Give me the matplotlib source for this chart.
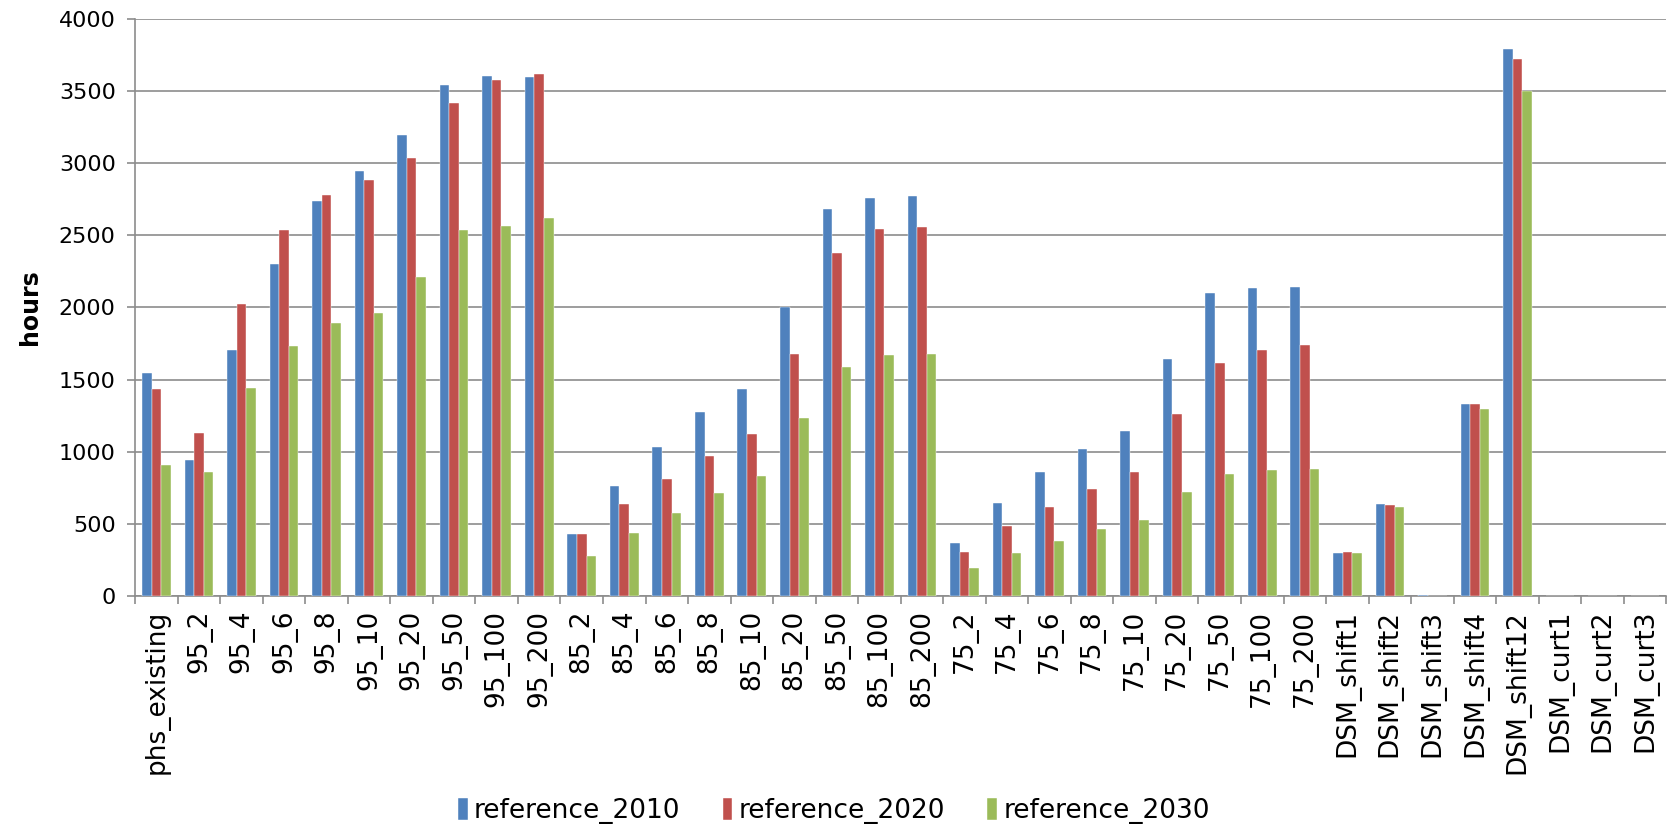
import numpy as np
import matplotlib.pyplot as plt

categories = ["phs_existing", "95_2", "95_4", "95_6", "95_8", "95_10", "95_20", "95_50", "95_100", "95_200",
              "85_2", "85_4", "85_6", "85_8", "85_10", "85_20", "85_50", "85_100", "85_200",
              "75_2", "75_4", "75_6", "75_8", "75_10", "75_20", "75_50", "75_100", "75_200",
              "DSM_shift1", "DSM_shift2", "DSM_shift3", "DSM_shift4", "DSM_shift12",
              "DSM_curt1", "DSM_curt2", "DSM_curt3"]

ref_2010 = [1548, 942, 1705, 2301, 2737, 2946, 3193, 3541, 3607, 3596,
            428, 763, 1035, 1277, 1433, 2001, 2680, 2759, 2776,
            368, 642, 857, 1019, 1145, 1644, 2103, 2133, 2139,
            297, 637, 8, 1332, 3789,
            0, 0, 0]
ref_2020 = [1433, 1128, 2026, 2534, 2778, 2885, 3039, 3418, 3577, 3616,
            428, 640, 810, 972, 1120, 1677, 2375, 2545, 2559,
            305, 483, 615, 741, 859, 1263, 1617, 1705, 1741,
            305, 631, 0, 1332, 3720,
            0, 0, 0]
ref_2030 = [906, 859, 1439, 1735, 1889, 1960, 2210, 2539, 2567, 2622,
            275, 439, 577, 714, 835, 1235, 1590, 1672, 1680,
            195, 297, 382, 461, 527, 722, 846, 876, 879,
            297, 618, 0, 1296, 3498,
            0, 0, 0]

series = [("reference_2010", ref_2010, "#4F81BD"),
          ("reference_2020", ref_2020, "#C0504D"),
          ("reference_2030", ref_2030, "#9BBB59")]

plt.rcParams['font.family'] = ['DejaVu Sans']

fig = plt.figure(figsize=(16.68, 8.25), dpi=100)
ax = fig.add_axes([0.081, 0.2776, 0.918, 0.6994])

x = np.arange(len(categories))
w = 0.225
for i, (name, vals, col) in enumerate(series):
    ax.bar(x + (i - 1) * w, vals, width=w, color=col, label=name,
           edgecolor="white", linewidth=0.3, zorder=3)

ax.set_xlim(-0.5, len(categories) - 0.5)
ax.set_ylim(0, 4000)
ax.set_yticks(np.arange(0, 4001, 500))
ax.yaxis.grid(True, color="#8c8c8c", linewidth=1.2, zorder=0)

ax.set_xticks(x)
ax.set_xticklabels(categories, rotation=90, fontsize=19)
ax.set_xticks(np.arange(-0.5, len(categories)), minor=True)
ax.tick_params(axis="x", which="major", length=0, pad=10)
ax.tick_params(axis="x", which="minor", length=6, color="#8c8c8c", width=1.2)
ax.tick_params(axis="y", length=6, color="#8c8c8c", width=1.2, labelsize=16, pad=8)

for side in ["top", "right"]:
    ax.spines[side].set_visible(False)
for side in ["left", "bottom"]:
    ax.spines[side].set_color("#8c8c8c")
    ax.spines[side].set_linewidth(1.2)

ax.set_ylabel("hours", fontsize=17, fontweight="bold", labelpad=12)

fig.legend(loc="center", bbox_to_anchor=(0.5, 0.017), ncol=3, frameon=False,
           fontsize=19, handlelength=0.35, handleheight=0.9, handletextpad=0.25,
           columnspacing=1.6)

fig.savefig("out.png", dpi=100)
